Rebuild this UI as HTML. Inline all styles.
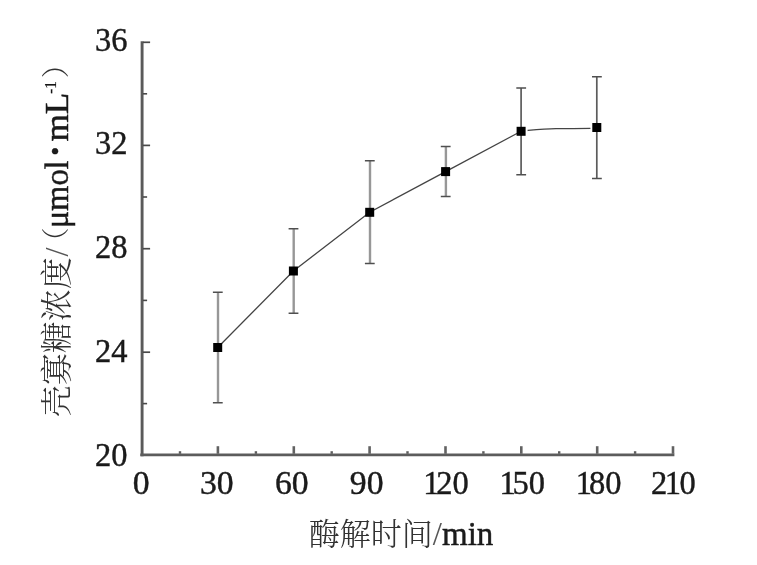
<!DOCTYPE html>
<html lang="zh"><head><meta charset="utf-8"><title>壳寡糖浓度 - 酶解时间</title>
<style>
html,body{margin:0;padding:0;background:#fff;}
body{width:757px;height:565px;overflow:hidden;position:relative;}
svg{position:absolute;left:0;top:0;display:block;}
text{font-family:"Liberation Serif","Noto Serif CJK SC",serif;fill:#1a1a1a;stroke:#1a1a1a;stroke-width:0.45px;}
.cjk{font-family:"Noto Serif CJK SC","Liberation Serif",serif;font-weight:300;fill:#333;stroke:none;}
.sl{fill:#555;stroke:none;}
.pr{font-weight:200;}
.sup{stroke-width:0.15px;}
</style></head><body>
<svg width="757" height="565" viewBox="0 0 757 565">
<rect x="0" y="0" width="757" height="565" fill="#ffffff"/>
<defs><filter id="soft" x="0" y="0" width="757" height="565" filterUnits="userSpaceOnUse"><feGaussianBlur stdDeviation="0.42"/></filter></defs>
<g filter="url(#soft)">
<path d="M142.1,41.2 V456.3" stroke="#5a5a5a" stroke-width="2.9" fill="none"/>
<path d="M140.3,454.8 H674.4" stroke="#5c5c5c" stroke-width="2.8" fill="none"/>
<g stroke="#4a4a4a" stroke-width="1.7" fill="none">
<path d="M142.9,42.3 H150.1"/>
<path d="M142.9,145.4 H150.1"/>
<path d="M142.9,248.7 H150.1"/>
<path d="M142.9,352.2 H150.1"/>
</g>
<g stroke="#626262" stroke-width="2.6" fill="none">
<path d="M217.9,453.8 V446.2"/>
<path d="M293.8,453.8 V446.2"/>
<path d="M369.6,453.8 V446.2"/>
<path d="M445.5,453.8 V446.2"/>
<path d="M521.3,453.8 V446.2"/>
<path d="M597.2,453.8 V446.2"/>
<path d="M673.0,453.8 V446.2"/>
</g>
<g stroke="#4a4a4a" stroke-width="1.6" fill="none">
<path d="M142.9,93.8 H147.1"/>
<path d="M142.9,197.0 H147.1"/>
<path d="M142.9,300.4 H147.1"/>
<path d="M142.9,403.6 H147.1"/>
</g>
<g stroke="#5c5c5c" stroke-width="2.4" fill="none">
<path d="M180.0,453.8 V451.2"/>
<path d="M255.9,453.8 V451.2"/>
<path d="M331.7,453.8 V451.2"/>
<path d="M407.5,453.8 V451.2"/>
<path d="M483.4,453.8 V451.2"/>
<path d="M559.2,453.8 V451.2"/>
<path d="M635.1,453.8 V451.2"/>
</g>
<g stroke="#979797" stroke-width="2.4" fill="none">
<path d="M218.0,292.3 V402.8"/>
<path d="M293.7,228.7 V313.3"/>
<path d="M370.0,160.8 V263.4"/>
<path d="M445.9,146.6 V196.6"/>
</g>
<g stroke="#5c5c5c" stroke-width="1.7" fill="none">
<path d="M521.1,88.1 V174.7"/>
<path d="M596.8,76.7 V178.5"/>
</g>
<g stroke="#505050" stroke-width="1.5" fill="none">
<path d="M212.9,292.3 H222.7 M212.9,402.8 H222.7"/>
<path d="M288.6,228.7 H298.4 M288.6,313.3 H298.4"/>
<path d="M364.9,160.8 H374.7 M364.9,263.4 H374.7"/>
<path d="M440.8,146.6 H450.6 M440.8,196.6 H450.6"/>
<path d="M516.3,88.1 H526.1 M516.3,174.7 H526.1"/>
<path d="M592.0,76.7 H601.8 M592.0,178.5 H601.8"/>
</g>
<path d="M217.7,347.5 L293.4,271.0 L369.7,212.3 L445.6,171.6 L521.1,131.3" stroke="#444444" stroke-width="1.3" fill="none"/>
<path d="M527.6,130.5 C538,129.6 546,128.9 556,128.7 S580,128.6 590.4,128.4" stroke="#444444" stroke-width="1.3" fill="none"/>
<g fill="#000">
<rect x="213.2" y="343.0" width="9" height="9"/>
<rect x="288.9" y="266.5" width="9" height="9"/>
<rect x="365.2" y="207.8" width="9" height="9"/>
<rect x="441.1" y="167.1" width="9" height="9"/>
<rect x="516.6" y="126.8" width="9" height="9"/>
<rect x="592.3" y="123.0" width="9" height="9"/>
</g>
<g font-size="34.2" text-anchor="end">
<text transform="translate(127.5,50.5) scale(0.95,1)">36</text>
<text transform="translate(127.5,154.4) scale(0.95,1)">32</text>
<text transform="translate(127.5,258.3) scale(0.95,1)">28</text>
<text transform="translate(127.5,362.2) scale(0.95,1)">24</text>
<text transform="translate(127.5,466.1) scale(0.95,1)">20</text>
</g>
<g font-size="34.2" text-anchor="middle">
<text transform="translate(141.1,494.3) scale(0.985,1)">0</text>
<text transform="translate(216.8,494.3) scale(0.985,1)">30</text>
<text transform="translate(291.8,494.3) scale(0.985,1)">60</text>
<text transform="translate(366.7,494.3) scale(0.985,1)">90</text>
</g>
<g font-size="34.2" text-anchor="end">
<text transform="translate(468.8,494.3) scale(0.95,1)">1<tspan dx="-3.2">20</tspan></text>
<text transform="translate(545.1,494.3) scale(0.95,1)">1<tspan dx="-3.2">50</tspan></text>
<text transform="translate(621.5,494.3) scale(0.95,1)">1<tspan dx="-3.2">80</tspan></text>
<text transform="translate(695.8,494.3) scale(0.95,1)">2<tspan dx="-2.5">1</tspan><tspan dx="-1.5">0</tspan></text>
</g>
<rect x="695.8" y="462" width="40" height="42" fill="#ffffff"/>
<text class="cjk" x="308.7" y="544.6" font-size="31">酶解时间</text>
<text transform="translate(432.8,544.6) scale(0.965,1)" font-size="34.2"><tspan class="sl">/</tspan>min</text>
<text class="cjk" transform="translate(67.5,417.3) rotate(-90) scale(1,1)" font-size="32">壳寡糖浓度</text>
<text class="sl" transform="translate(67.9,256.5) rotate(-90) scale(0.95,1)" font-size="34.2">/</text>
<text class="cjk pr" transform="translate(66.3,255.5) rotate(-90) scale(1,1)" font-size="28">（</text>
<text transform="translate(67.9,228.3) rotate(-90) scale(0.95,1)" font-size="34.2">μmol</text>
<text transform="translate(63.9,155.5) rotate(-90) scale(0.95,1)" font-size="26">•</text>
<text transform="translate(67.9,141.6) rotate(-90) scale(1.03,1)" font-size="34.2">mL</text>
<text class="sup" transform="translate(55.9,93.7) rotate(-90) scale(0.95,1)" font-size="16">-1</text>
<text class="cjk pr" transform="translate(66.3,78.3) rotate(-90) scale(1,1)" font-size="28">）</text>
</g>
</svg>
</body></html>
